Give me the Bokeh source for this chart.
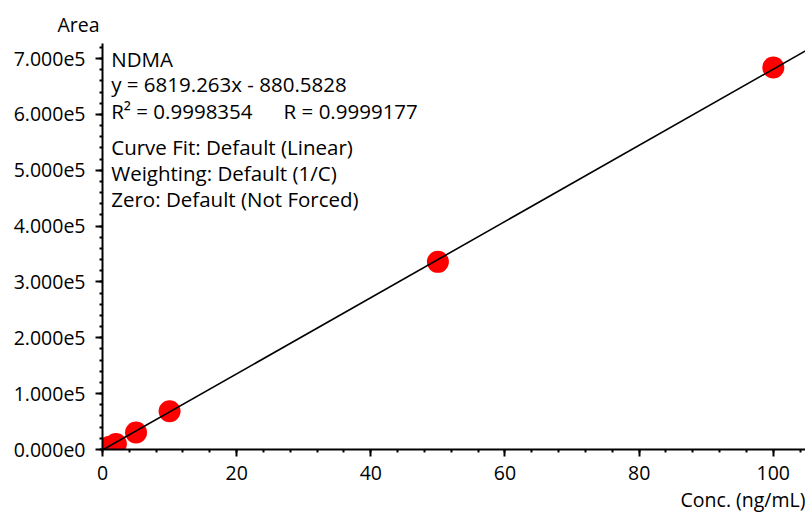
from bokeh.plotting import figure
from bokeh.models import FixedTicker, Title, Label, Range1d
from bokeh.embed import file_html
from bokeh.resources import INLINE

# ---- data ----
conc = [1, 2, 5, 10, 50, 100]
area = [5000, 10000, 30500, 68500, 336000, 684000]
slope = 6819.263
intercept = -880.5828
x_ticks = [0, 20, 40, 60, 80, 100]
y_ticks = [0, 100000, 200000, 300000, 400000, 500000, 600000, 700000]
x_minor = [i * 4 for i in range(0, 27)]
y_minor = [i * 20000 for i in range(0, 37)]
compound = "NDMA"
equation = "y = 6819.263x - 880.5828"
r2_text = "R² = 0.9998354"
r_text = "R = 0.9999177"
info_lines = ["Curve Fit: Default (Linear)", "Weighting: Default (1/C)", "Zero: Default (Not Forced)"]

FONT = "Open Sans"
FS = "20.5px"
TFS = "19.5px"

x_end = 104.8
y_end = 727000

p = figure(width=805, height=514, output_backend="svg", toolbar_location=None,
           x_range=Range1d(0, x_end), y_range=Range1d(0, y_end),
           min_border_left=102, min_border_right=0, min_border_top=43, min_border_bottom=64)
p.outline_line_color = None
p.grid.visible = False
p.background_fill_color = "white"
p.border_fill_color = "white"

# fit line
lx = [0, x_end + 5]
ly = [slope * v + intercept for v in lx]
p.scatter(conc, area, size=22, color="#ff0000", line_color=None)
p.line(lx, ly, line_color="black", line_width=1.6)

# axes
for ax in (p.xaxis[0], p.yaxis[0]):
    ax.axis_line_width = 2
    ax.major_tick_line_width = 2
    ax.minor_tick_line_width = 2
    ax.major_tick_in = 0
    ax.minor_tick_in = 0
    ax.major_label_text_font = FONT
    ax.major_label_text_font_size = TFS
    ax.major_label_text_color = "black"
    ax.axis_line_color = "black"
    ax.major_tick_line_color = "black"
    ax.minor_tick_line_color = "black"

p.xaxis.ticker = FixedTicker(ticks=x_ticks, minor_ticks=x_minor)
p.xaxis.major_tick_out = 7
p.xaxis.minor_tick_out = 3
p.xaxis.major_label_standoff = 9

p.yaxis.ticker = FixedTicker(ticks=y_ticks, minor_ticks=y_minor)
p.yaxis.major_tick_out = 7
p.yaxis.minor_tick_out = 3
p.yaxis.major_label_standoff = 10
overrides = {}
for v in y_ticks:
    if v == 0:
        overrides[v] = "0.000e0"
    else:
        overrides[v] = f"{v/1e5:.3f}e5"
p.yaxis.major_label_overrides = overrides

# axis titles
p.add_layout(Title(text="Area", align="left", offset=-45, text_font=FONT, text_color="black",
                   text_font_size=TFS, text_font_style="normal", standoff=12), "above")
p.add_layout(Title(text="Conc. (ng/mL)", align="right", text_font=FONT, text_color="black",
                   text_font_size=TFS, text_font_style="normal", standoff=3), "below")

# annotation text
tx = 1.3
common = dict(text_font=FONT, text_font_size=FS, text_baseline="middle", text_color="black")
p.add_layout(Label(x=tx, y=700000, text=compound, **common))
p.add_layout(Label(x=tx, y=654000, text=equation, **common))
p.add_layout(Label(x=tx, y=607000, text=r2_text, **common))
p.add_layout(Label(x=27.0, y=607000, text=r_text, **common))
for i, t in enumerate(info_lines):
    p.add_layout(Label(x=tx, y=541000 - i * 46500, text=t, **common))

open("out.html", "w").write(file_html(p, INLINE))
